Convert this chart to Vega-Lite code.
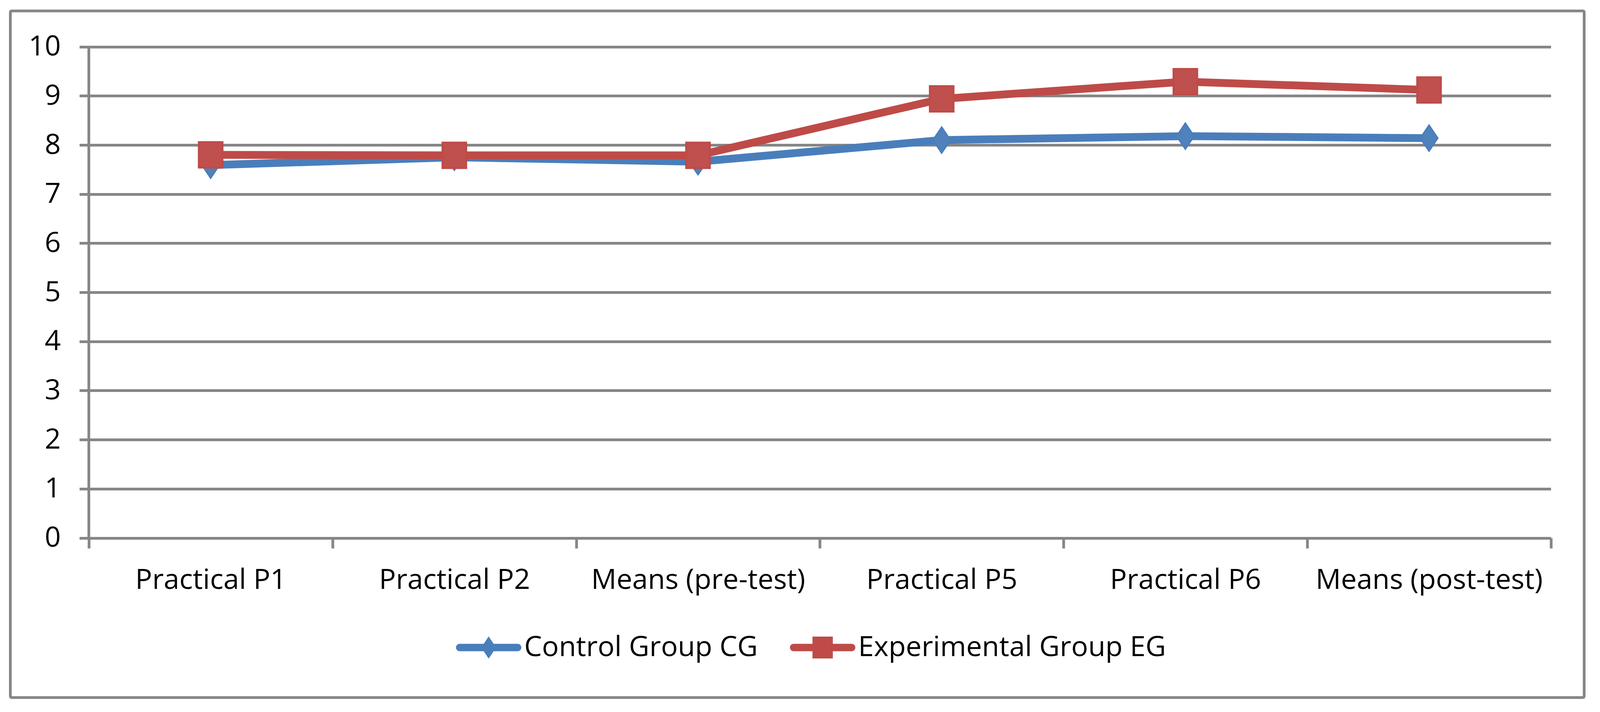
{
  "$schema": "https://vega.github.io/schema/vega-lite/v6.json",
  "width": 4029,
  "height": 1757,
  "autosize": {"type": "none"},
  "padding": {"left": 26.5, "top": 28, "right": 37.5, "bottom": 37},
  "background": "white",
  "config": {
    "view": {"stroke": "#868686", "strokeWidth": 7, "cornerRadius": 3, "fill": "white"},
    "font": "Open Sans"
  },
  "data": {
    "values": [
      {"cat": "Practical P1", "group": "Control Group CG", "value": 7.59},
      {"cat": "Practical P2", "group": "Control Group CG", "value": 7.75},
      {"cat": "Means (pre-test)", "group": "Control Group CG", "value": 7.66},
      {"cat": "Practical P5", "group": "Control Group CG", "value": 8.10},
      {"cat": "Practical P6", "group": "Control Group CG", "value": 8.18},
      {"cat": "Means (post-test)", "group": "Control Group CG", "value": 8.14},
      {"cat": "Practical P1", "group": "Experimental Group EG", "value": 7.80},
      {"cat": "Practical P2", "group": "Experimental Group EG", "value": 7.79},
      {"cat": "Means (pre-test)", "group": "Experimental Group EG", "value": 7.79},
      {"cat": "Practical P5", "group": "Experimental Group EG", "value": 8.94},
      {"cat": "Practical P6", "group": "Experimental Group EG", "value": 9.29},
      {"cat": "Means (post-test)", "group": "Experimental Group EG", "value": 9.12}
    ]
  },
  "encoding": {
    "x": {
      "field": "cat",
      "type": "nominal",
      "scale": {
        "domain": ["Practical P1", "Practical P2", "Means (pre-test)", "Practical P5", "Practical P6", "Means (post-test)"],
        "paddingInner": 0,
        "paddingOuter": 0.2294,
        "align": 0.702
      },
      "axis": {
        "title": null,
        "orient": "bottom",
        "offset": -408.5,
        "domain": false,
        "grid": false,
        "tickBand": "extent",
        "ticks": true,
        "tickSize": 26.5,
        "tickWidth": 7,
        "tickColor": "#868686",
        "labelAngle": 0,
        "labelFont": "Open Sans",
        "labelFontSize": 72,
        "labelColor": "#000000",
        "labelPadding": 46,
        "labelLimit": 2000,
        "labelOverlap": false
      }
    },
    "y": {
      "field": "value",
      "type": "quantitative",
      "scale": {"domain": [-3.2503, 10.7296], "nice": false, "zero": false},
      "axis": {
        "title": null,
        "orient": "left",
        "offset": -3943.7,
        "values": [0, 1, 2, 3, 4, 5, 6, 7, 8, 9, 10],
        "domain": false,
        "grid": false,
        "tickSize": 3767,
        "tickWidth": 7,
        "tickColor": "#868686",
        "labelFont": "Open Sans",
        "labelFontSize": 72,
        "labelColor": "#000000",
        "labelPadding": 48,
        "labelOverlap": false,
        "labelFlush": false
      }
    }
  },
  "layer": [
    {
      "transform": [{"filter": "datum.cat === 'Practical P1' && datum.group === 'Control Group CG'"}],
      "mark": {"type": "rule", "color": "#868686", "strokeWidth": 7},
      "encoding": {
        "x": {
          "field": "cat",
          "type": "nominal",
          "bandPosition": 0,
          "scale": {
            "domain": ["Practical P1", "Practical P2", "Means (pre-test)", "Practical P5", "Practical P6", "Means (post-test)"],
            "paddingInner": 0,
            "paddingOuter": 0.2294,
            "align": 0.702
          }
        },
        "y": {"datum": 0, "type": "quantitative"},
        "y2": {"datum": 10}
      }
    },
    {
      "transform": [{"filter": "datum.group === 'Control Group CG'"}],
      "mark": {"type": "line", "strokeWidth": 20, "strokeJoin": "round", "strokeCap": "round", "color": "#4A7EBB"}
    },
    {
      "transform": [{"filter": "datum.group === 'Experimental Group EG'"}],
      "mark": {"type": "line", "strokeWidth": 20, "strokeJoin": "round", "strokeCap": "round", "color": "#BE4B48"}
    },
    {
      "transform": [{"filter": "datum.group === 'Control Group CG'"}],
      "mark": {
        "type": "point",
        "filled": true,
        "shape": "M0,-1L0.676,0L0,1L-0.676,0Z",
        "size": 4356,
        "fill": "#4F81BD",
        "stroke": "#4A7EBB",
        "strokeWidth": 4,
        "opacity": 1
      }
    },
    {
      "transform": [{"filter": "datum.group === 'Experimental Group EG'"}],
      "mark": {
        "type": "point",
        "filled": true,
        "shape": "M-0.931,-1H0.931V1H-0.931Z",
        "size": 4225,
        "fill": "#C0504D",
        "stroke": "#BE4B48",
        "strokeWidth": 5,
        "opacity": 1
      }
    },
    {
      "mark": {"type": "point", "filled": true, "opacity": 0, "size": 28023},
      "encoding": {
        "fill": {
          "field": "group",
          "type": "nominal",
          "scale": {"domain": ["Control Group CG", "Experimental Group EG"], "range": ["#4A7EBB", "#BE4B48"]},
          "legend": {
            "title": null,
            "orient": "none",
            "legendX": 1140.5,
            "legendY": 1545,
            "direction": "horizontal",
            "symbolSize": 28023,
            "symbolStrokeWidth": 0,
            "symbolOpacity": 1,
            "labelFont": "Open Sans",
            "labelFontSize": 72,
            "labelColor": "#000000",
            "labelOffset": 7,
            "labelLimit": 2000,
            "columnPadding": 82,
            "padding": 0
          }
        },
        "shape": {
          "field": "group",
          "type": "nominal",
          "scale": {
            "domain": ["Control Group CG", "Experimental Group EG"],
            "range": [
              "M-0.8865,-0.1135H0.8865A0.1135,0.1135 0 0 1 0.8865,0.1135H-0.8865A0.1135,0.1135 0 0 1 -0.8865,-0.1135ZM0,-0.3405L0.227,0L0,0.3405L-0.227,0Z",
              "M-0.8865,-0.1135H0.8865A0.1135,0.1135 0 0 1 0.8865,0.1135H-0.8865A0.1135,0.1135 0 0 1 -0.8865,-0.1135ZM-0.311,-0.3345H0.311V0.3345H-0.311Z"
            ]
          },
          "legend": {
            "title": null,
            "orient": "none",
            "legendX": 1140.5,
            "legendY": 1545,
            "direction": "horizontal",
            "symbolSize": 28023,
            "symbolStrokeWidth": 0,
            "symbolOpacity": 1,
            "labelFont": "Open Sans",
            "labelFontSize": 72,
            "labelColor": "#000000",
            "labelOffset": 7,
            "labelLimit": 2000,
            "columnPadding": 82,
            "padding": 0
          }
        }
      }
    }
  ]
}
